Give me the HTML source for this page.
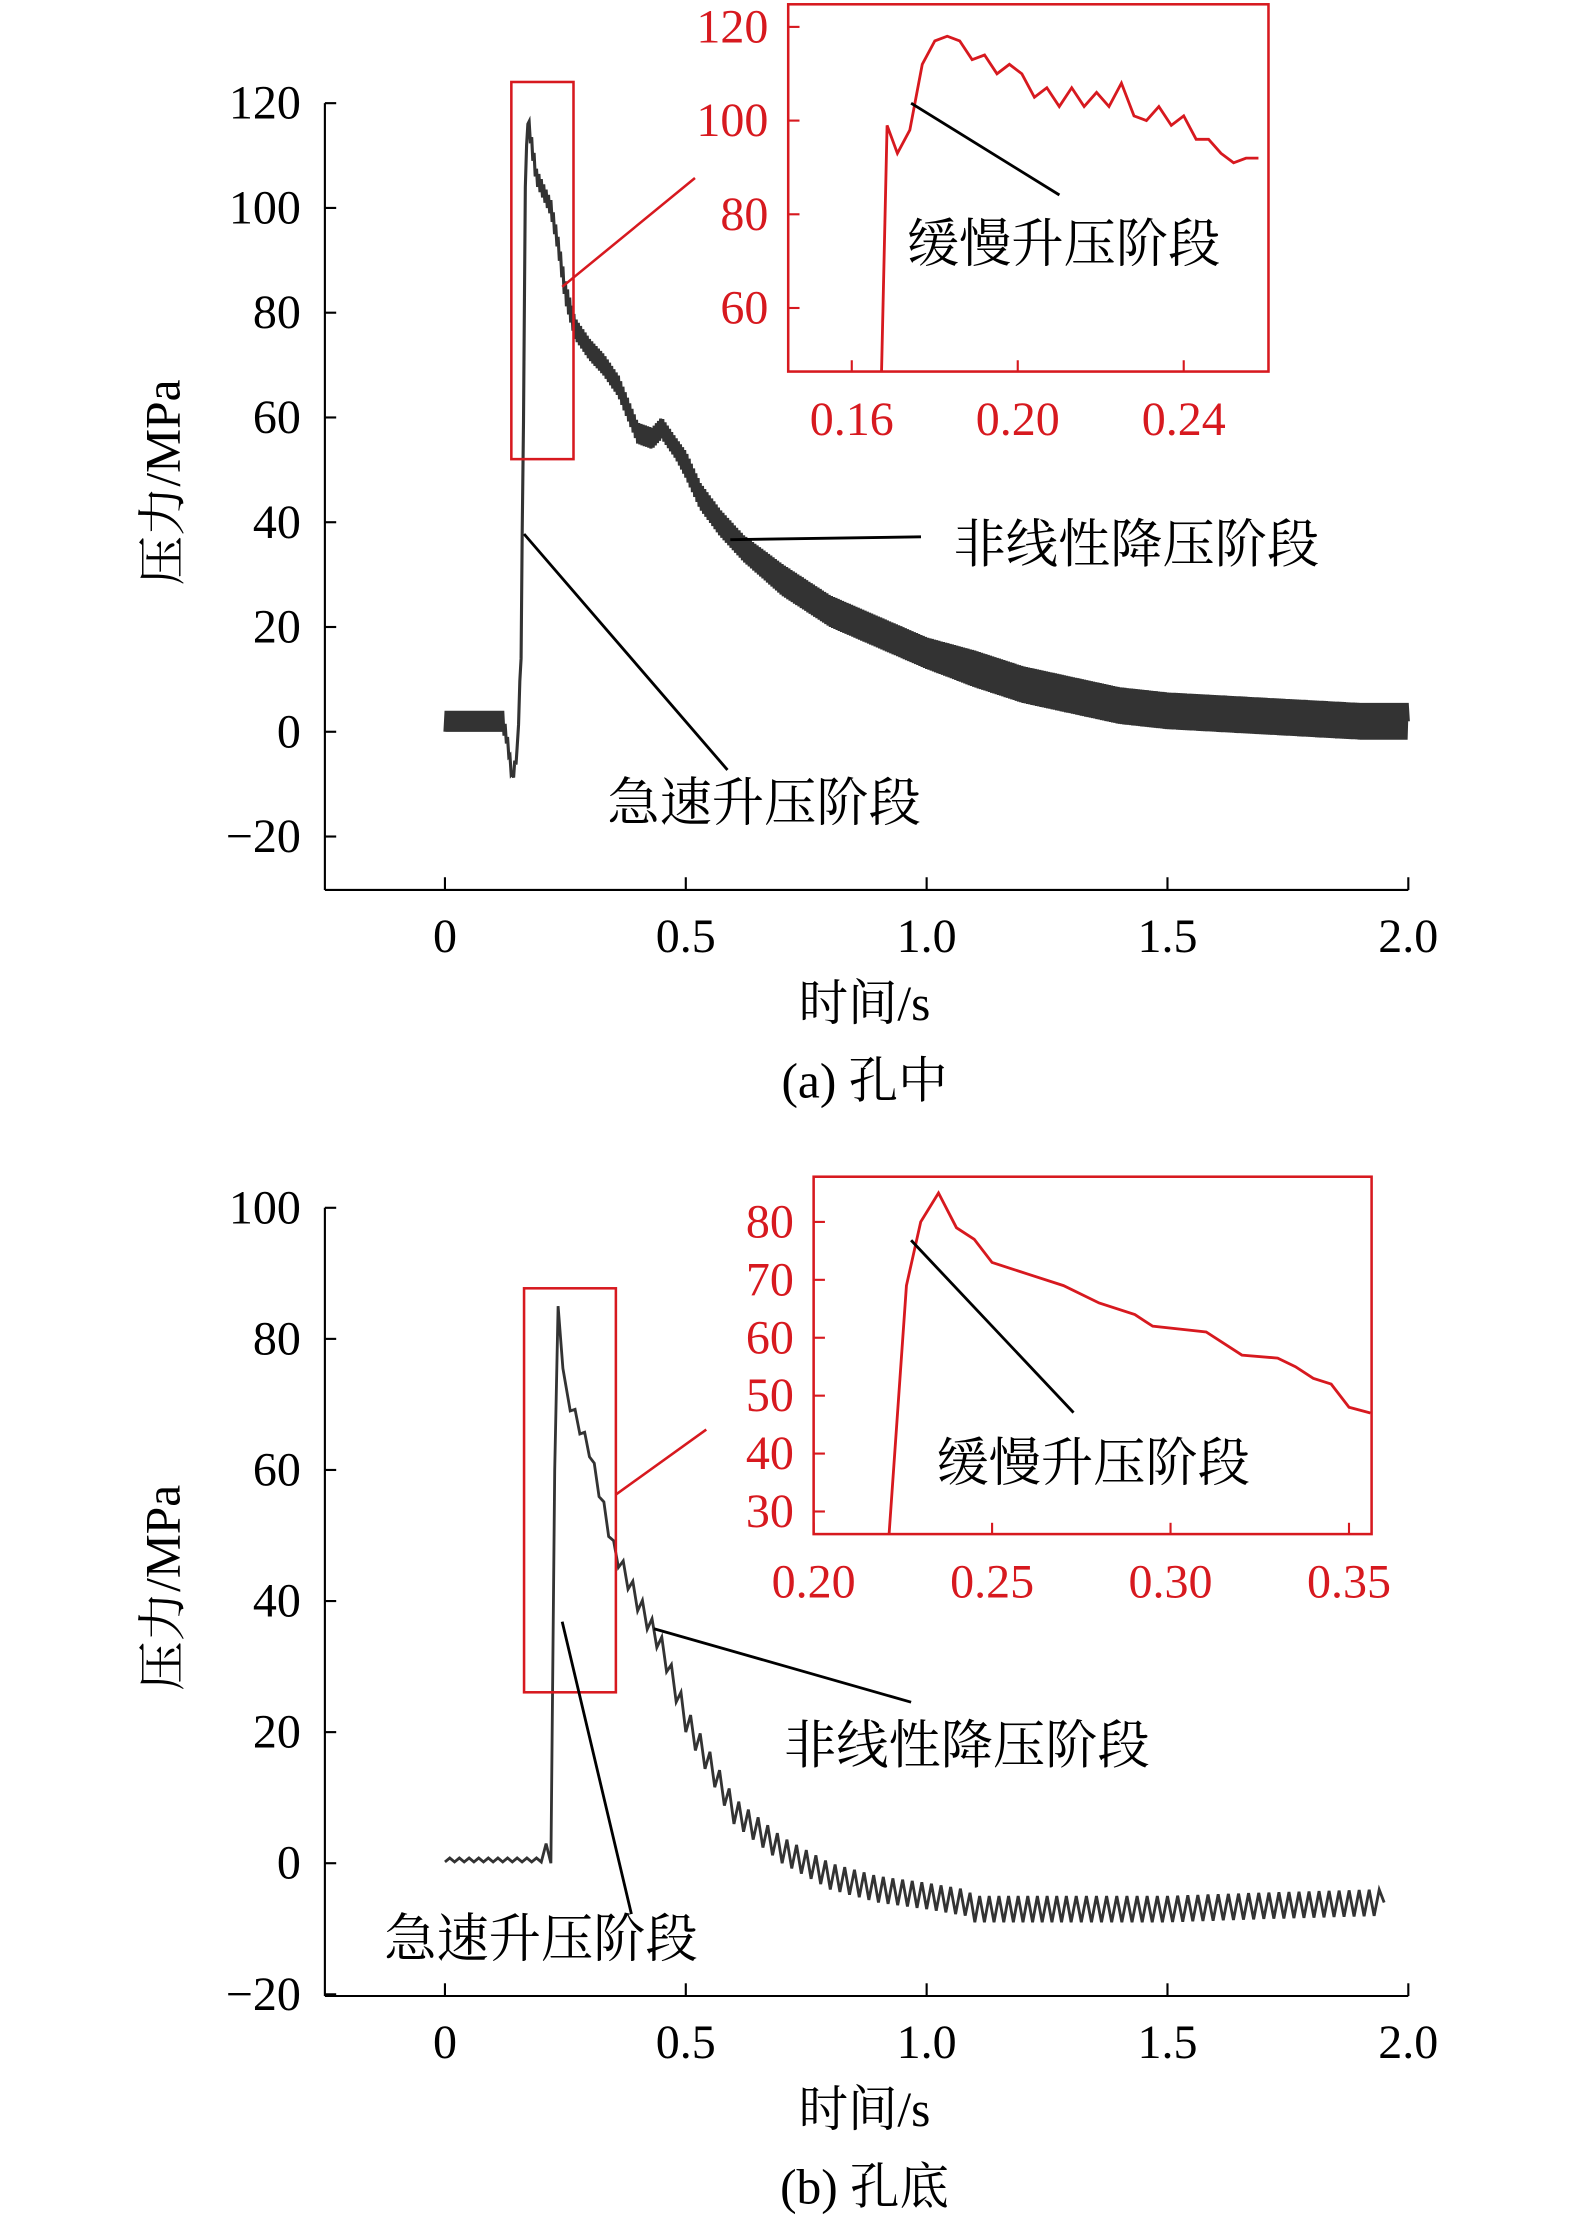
<!DOCTYPE html>
<html><head><meta charset="utf-8"><style>
html,body{margin:0;padding:0;background:#fff}
svg{display:block}
text{font-family:"Liberation Serif","Noto Serif CJK SC",serif}
</style></head><body>
<svg id="s" width="1575" height="2215" viewBox="0 0 1115 1568" xmlns="http://www.w3.org/2000/svg"></svg>
<script>
// ===== Data: panel (a) 孔中 =====
const aTime=[0,0.12,0.13,0.14,0.15,0.158,0.163,0.167,0.172,0.18,0.19,0.2,0.21,0.22,0.235,0.25,0.27,0.3,0.33,0.36,0.4,0.43,0.45,0.48,0.5,0.53,0.57,0.62,0.7,0.8,0.9,1.0,1.1,1.2,1.3,1.4,1.5,1.6,1.7,1.8,1.9,2.0];
const aPress=[2,2,-2,-9,-4,15,60,105,117,112,106,104,102,100,93,84,77,73,70,66,57,56,58,54,51,45,40,35,29,23,19,15,12,9,7,5,4,3.5,3,2.5,2,2];
const aBand=[2,2,1,1,1,1,1,1,1,1.5,1.5,1.5,1.5,1.5,1.5,2,2,2,2,2,2,2,2,2,2.5,2.5,2.5,2.5,3,3,3,3,3.5,3.5,3.5,3.5,3.5,3.5,3.5,3.5,3.5,3.5];
const aInT=[0.167,0.1685,0.171,0.174,0.177,0.18,0.183,0.186,0.189,0.192,0.195,0.198,0.201,0.204,0.207,0.21,0.213,0.216,0.219,0.222,0.225,0.228,0.231,0.234,0.237,0.24,0.243,0.246,0.249,0.252,0.255,0.258];
const aInP=[40,99,93,98,112,117,118,117,113,114,110,112,110,105,107,103,107,103,106,103,108,101,100,103,99,101,96,96,93,91,92,92];
// ===== Data: panel (b) 孔底 =====
const bTime=[0,0.1,0.2,0.21,0.22,0.228,0.235,0.245,0.26,0.3,0.35,0.4,0.45,0.5,0.55,0.6,0.7,0.8,0.9,1.0,1.08,1.1,1.2,1.3,1.5,1.7,1.95];
const bPress=[0.5,0.5,0.5,3,0,60,85,75,70,63,48,40,33,22,15,8,2,-2,-4,-5,-6,-7,-7,-7,-7,-6.5,-6];
const bOsc=[0.3,0.3,0.3,0,0,0,0,0.5,1,1,1.2,1.5,1.5,2,2,2,2,2,2,2,2,2,2,2,2,2,2];
const bInT=[0.221,0.226,0.23,0.235,0.24,0.245,0.25,0.26,0.27,0.28,0.29,0.295,0.31,0.32,0.33,0.335,0.34,0.345,0.35,0.356];
const bInP=[25,69,80,85,79,77,73,71,69,66,64,62,61,57,56.5,55,53,52,48,47];
const aYT=["−20","0","20","40","60","80","100","120"],aYV=[-20,0,20,40,60,80,100,120];
const bYT=["−20","0","20","40","60","80","100"],bYV=[-20,0,20,40,60,80,100];
const xT=["0","0.5","1.0","1.5","2.0"],xV=[0,0.5,1,1.5,2];
const aInX=["0.16","0.20","0.24"],aInXV=[0.16,0.2,0.24],aInY=["60","80","100","120"],aInYV=[60,80,100,120];
const bInX=["0.20","0.25","0.30","0.35"],bInXV=[0.2,0.25,0.3,0.35],bInY=["30","40","50","60","70","80"],bInYV=[30,40,50,60,70,80];

const S=document.getElementById('s'),NS='http://www.w3.org/2000/svg';
function mk(t,a,txt,name){const e=document.createElementNS(NS,t);for(const k in a)e.setAttribute(k,a[k]);if(txt!==undefined)e.textContent=txt;


S.appendChild(e);return e;}
function lin(d0,d1,r0,r1){return v=>r0+(v-d0)*(r1-r0)/(d1-d0);}

function panel(o){
 const X=lin(0,2,315,997),Y=lin(o.v0,o.v1,o.y0,o.y1);
 mk('line',{x1:230,y1:o.axTop,x2:230,y2:o.axBot,stroke:'#000','stroke-width':1.5},undefined,'y-axis');
 mk('line',{x1:230,y1:o.axBot,x2:997,y2:o.axBot,stroke:'#000','stroke-width':1.5},undefined,'x-axis');
 o.yV.forEach((v,i)=>{mk('line',{x1:230,y1:Y(v),x2:238,y2:Y(v),stroke:'#000','stroke-width':1.5},undefined,'y-tick');
  mk('text',{x:213,y:Y(v)+11,'text-anchor':'end','font-size':34},o.yT[i],'y-tick-label');});
 xV.forEach((v,i)=>{mk('line',{x1:X(v),y1:o.axBot,x2:X(v),y2:o.axBot-9,stroke:'#000','stroke-width':1.5},undefined,'x-tick');
  mk('text',{x:X(v),y:o.axBot+44,'text-anchor':'middle','font-size':34},xT[i],'x-tick-label');});
 const yc=(o.axTop+o.axBot)/2;
 mk('text',{x:0,y:0,transform:`translate(127,${yc-10}) rotate(-90)`,'text-anchor':'middle','font-size':35},'压力/MPa','y-axis-title');
 mk('text',{x:612,y:o.axBot+92,'text-anchor':'middle','font-size':35},'时间/s','x-axis-title');
 mk('text',{x:612,y:o.axBot+147,'text-anchor':'middle','font-size':35},o.cap,'panel-caption');
 return {X,Y};
}
function inset(o){
 const X=lin(o.xd0,o.xd1,o.xr0,o.xr1),Y=lin(o.yd0,o.yd1,o.yr0,o.yr1);
 mk('rect',{x:o.L,y:o.T,width:o.R-o.L,height:o.B-o.T,fill:'#fff',stroke:'#d7191f','stroke-width':1.8},undefined,'inset-frame');
 o.yV.forEach((v,i)=>{mk('line',{x1:o.L,y1:Y(v),x2:o.L+8,y2:Y(v),stroke:'#d7191f','stroke-width':1.5},undefined,'inset-y-tick');
  mk('text',{x:o.L-14,y:Y(v)+11,'text-anchor':'end','font-size':34,fill:'#d7191f'},o.yT[i],'inset-y-label');});
 o.xV.forEach((v,i)=>{mk('line',{x1:X(v),y1:o.B,x2:X(v),y2:o.B-8,stroke:'#d7191f','stroke-width':1.5},undefined,'inset-x-tick');
  mk('text',{x:X(v),y:o.B+45,'text-anchor':'middle','font-size':34,fill:'#d7191f'},o.xT[i],'inset-x-label');});
 const cid='c'+o.L;
 const cp=mk('clipPath',{id:cid},undefined,'inset-clip');
 const r=document.createElementNS(NS,'rect');r.setAttribute('x',o.L);r.setAttribute('y',o.T);r.setAttribute('width',o.R-o.L);r.setAttribute('height',o.B-o.T);cp.appendChild(r);
 const pts=o.t.map((t,i)=>X(t).toFixed(1)+','+Y(o.p[i]).toFixed(1)).join(' ');
 mk('polyline',{points:pts,fill:'none',stroke:'#d7191f','stroke-width':2,'clip-path':`url(#${cid})`},undefined,'inset-series');
}
// Panel a
const A=panel({v0:0,v1:120,y0:518,y1:73,axTop:73,axBot:630,yV:aYV,yT:aYT,cap:'(a) 孔中'});
{const pts=[];
 for(let i=0;i<aTime.length-1;i++){
  const x0=A.X(aTime[i]),x1=A.X(aTime[i+1]);
  const n=Math.max(1,Math.round((x1-x0)/0.8));
  for(let k=0;k<n;k++){const f=k/n;const p=aPress[i]+(aPress[i+1]-aPress[i])*f,a=aBand[i]+(aBand[i+1]-aBand[i])*f;
   pts.push((x0+(x1-x0)*f).toFixed(1)+','+A.Y(p+(pts.length%2?a:-a)).toFixed(1));}}
 pts.push(A.X(aTime[aTime.length-1]).toFixed(1)+','+A.Y(aPress[aPress.length-1]).toFixed(1));
 mk('polyline',{points:pts.join(' '),fill:'none',stroke:'#333','stroke-width':2.2},undefined,'series-a-line');}
mk('rect',{x:362,y:58,width:44,height:267,fill:'none',stroke:'#d7191f','stroke-width':1.8},undefined,'zoom-box-a');
mk('line',{x1:398,y1:203,x2:492,y2:126,stroke:'#d7191f','stroke-width':1.8},undefined,'zoom-connector-a');
inset({L:558,T:3,R:898,B:263,xd0:0.16,xd1:0.24,xr0:603,xr1:838,yd0:60,yd1:120,yr0:218,yr1:19,xV:aInXV,xT:aInX,yV:aInYV,yT:aInY,t:aInT,p:aInP});
mk('line',{x1:645,y1:73,x2:750,y2:138,stroke:'#000','stroke-width':2},undefined,'leader-slow-a');
mk('text',{x:642,y:185,'font-size':37},'缓慢升压阶段','label-slow-a');
mk('line',{x1:517,y1:382,x2:652,y2:380,stroke:'#000','stroke-width':2},undefined,'leader-nonlinear-a');
mk('text',{x:675,y:398,'font-size':37},'非线性降压阶段','label-nonlinear-a');
mk('line',{x1:371,y1:378,x2:515,y2:545,stroke:'#000','stroke-width':2},undefined,'leader-fast-a');
mk('text',{x:430,y:581,'font-size':37},'急速升压阶段','label-fast-a');
// Panel b
const B=panel({v0:0,v1:100,y0:1319,y1:855,axTop:855,axBot:1413,yV:bYV,yT:bYT,cap:'(b) 孔底'});
{const pts=[];
 for(let i=0;i<bTime.length-1;i++){
  const x0=B.X(bTime[i]),x1=B.X(bTime[i+1]);
  const n=Math.max(1,Math.round((x1-x0)/3.5));
  for(let k=0;k<n;k++){const f=k/n;const p=bPress[i]+(bPress[i+1]-bPress[i])*f,a=bOsc[i]+(bOsc[i+1]-bOsc[i])*f;
   pts.push((x0+(x1-x0)*f).toFixed(1)+','+B.Y(p+(pts.length%2?a:-a)).toFixed(1));}}
 pts.push(B.X(bTime[bTime.length-1]).toFixed(1)+','+B.Y(bPress[bPress.length-1]).toFixed(1));
 mk('polyline',{points:pts.join(' '),fill:'none',stroke:'#333','stroke-width':2},undefined,'series-b-line');}
mk('rect',{x:371,y:912,width:65,height:286,fill:'none',stroke:'#d7191f','stroke-width':1.8},undefined,'zoom-box-b');
mk('line',{x1:436,y1:1058,x2:500,y2:1012,stroke:'#d7191f','stroke-width':1.8},undefined,'zoom-connector-b');
inset({L:576,T:833,R:971,B:1086,xd0:0.2,xd1:0.35,xr0:576,xr1:955,yd0:30,yd1:80,yr0:1070,yr1:865,xV:bInXV,xT:bInX,yV:bInYV,yT:bInY,t:bInT,p:bInP});
mk('line',{x1:645,y1:878,x2:760,y2:1000,stroke:'#000','stroke-width':2},undefined,'leader-slow-b');
mk('text',{x:663,y:1048,'font-size':37},'缓慢升压阶段','label-slow-b');
mk('line',{x1:463,y1:1153,x2:645,y2:1205,stroke:'#000','stroke-width':2},undefined,'leader-nonlinear-b');
mk('text',{x:555,y:1248,'font-size':37},'非线性降压阶段','label-nonlinear-b');
mk('line',{x1:398,y1:1148,x2:447,y2:1355,stroke:'#000','stroke-width':2},undefined,'leader-fast-b');
mk('text',{x:272,y:1385,'font-size':37},'急速升压阶段','label-fast-b');
</script>
</body></html>
